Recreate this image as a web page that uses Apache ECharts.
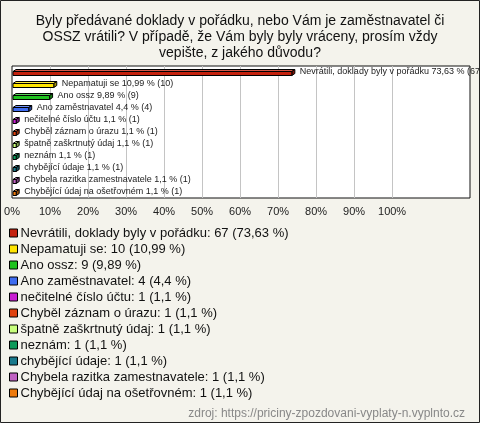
<!DOCTYPE html>
<html>
<head>
<meta charset="utf-8">
<script src="https://cdn.jsdelivr.net/npm/echarts@6/dist/echarts.min.js"></script>
<style>
  html, body { margin: 0; padding: 0; background: #f4f3ec; }
  #chart { width: 480px; height: 423px; }
</style>
</head>
<body>
<div id="chart"></div>
<script>
// data
const categories = [
  'Nevrátili, doklady byly v pořádku',
  'Nepamatuji se',
  'Ano ossz',
  'Ano zaměstnavatel',
  'nečitelné číslo účtu',
  'Chyběl záznam o úrazu',
  'špatně zaškrtnutý údaj',
  'neznám',
  'chybějící údaje',
  'Chybela razitka zamestnavatele',
  'Chybějící údaj na ošetřovném'
];
const counts = [67, 10, 9, 4, 1, 1, 1, 1, 1, 1, 1];
const percents = [73.63, 10.99, 9.89, 4.4, 1.1, 1.1, 1.1, 1.1, 1.1, 1.1, 1.1];
const colors = ['#c4210d', '#ffe400', '#1ec21e', '#3f6cf0', '#c81ed2', '#e0420e',
  '#c8ff7c', '#0e9a5a', '#1a7a8c', '#c062c2', '#ee7a0c'];
const tickValues = [10, 20, 30, 40, 50, 60, 70, 80, 90, 100];

const chart = echarts.init(document.getElementById('chart'));
const fmt = v => String(v).replace('.', ',');

function shade(hex, f) {
  const n = parseInt(hex.slice(1), 16);
  let r = (n >> 16) & 255, g = (n >> 8) & 255, b = n & 255;
  if (f > 0) { r += (255 - r) * f; g += (255 - g) * f; b += (255 - b) * f; }
  else { r *= 1 + f; g *= 1 + f; b *= 1 + f; }
  return 'rgb(' + Math.round(r) + ',' + Math.round(g) + ',' + Math.round(b) + ')';
}

// one 3D bar per category so the legend gets each answer
const barSeries = categories.map((name, i) => ({
  name: name,
  type: 'custom',
  z: 3,
  itemStyle: { color: colors[i] },
  data: [[percents[i], i]],
  renderItem: function (params, api) {
    const end = api.coord([api.value(0), api.value(1)]);
    const start = api.coord([0, api.value(1)]);
    const h = 4, dx = 3, dy = 2;
    const x = start[0] + 1, y = Math.round(end[1] - h / 2 + 1) + 0.5;
    const w = end[0] - x;
    const c = colors[i];
    const stroke = { stroke: '#000', lineWidth: 1 };
    return {
      type: 'group',
      children: [
        { type: 'polygon', shape: { points: [[x, y], [x + dx, y - dy], [x + w + dx, y - dy], [x + w, y]] },
          style: Object.assign({ fill: shade(c, 0.25) }, stroke) },
        { type: 'polygon', shape: { points: [[x + w, y], [x + w + dx, y - dy], [x + w + dx, y + h - dy], [x + w, y + h]] },
          style: Object.assign({ fill: shade(c, -0.35) }, stroke) },
        { type: 'rect', shape: { x: x, y: y, width: w, height: h },
          style: Object.assign({ fill: c }, stroke) },
        { type: 'text', x: end[0] + dx + 5, y: end[1],
          style: { text: name + ' ' + fmt(percents[i]) + ' % (' + counts[i] + ')',
            fill: '#222', font: '9px "Liberation Sans", Arial, sans-serif',
            textVerticalAlign: 'middle' } }
      ]
    };
  }
}));

// vertical grid lines at the tick values
const gridLines = {
  type: 'custom',
  name: 'grid',
  z: 1,
  silent: true,
  data: tickValues.map(v => [v, 0]),
  renderItem: function (params, api) {
    const cs = params.coordSys;
    const x = Math.round(api.coord([api.value(0), 0])[0]) + 0.5;
    return { type: 'line', shape: { x1: x, y1: cs.y, x2: x, y2: cs.y + cs.height },
      style: { stroke: '#c4c4c4', lineWidth: 1 } };
  }
};

chart.setOption({
  backgroundColor: '#f4f3ec',
  animation: false,
  title: [{
    text: 'Byly předávané doklady v pořádku, nebo Vám je zaměstnavatel či\nOSSZ vrátili? V případě, že Vám byly byly vráceny, prosím vždy\nvepište, z jakého důvodu?',
    left: 240,
    top: 13,
    textAlign: 'center',
    padding: 0,
    textStyle: { fontFamily: '"Liberation Sans", Arial, sans-serif', fontSize: 14, fontWeight: 'normal', color: '#111', lineHeight: 16 }
  }, {
    text: 'zdroj: https://priciny-zpozdovani-vyplaty-n.vyplnto.cz',
    right: 10,
    top: 403,
    textStyle: { fontFamily: '"Liberation Sans", Arial, sans-serif', fontSize: 12, fontWeight: 'normal', color: '#888' }
  }],
  grid: {
    left: 12, right: 10, top: 66, height: 132,
    show: true, backgroundColor: '#fff', borderColor: '#111', borderWidth: 1
  },
  xAxis: {
    type: 'value',
    min: 0, max: 120.5, interval: 10,
    splitLine: { show: false },
    axisLine: { show: false },
    axisTick: { show: false },
    axisLabel: {
      color: '#222', fontSize: 11, margin: 8,
      fontFamily: '"Liberation Sans", Arial, sans-serif',
      showMaxLabel: false,
      formatter: v => (v <= 100 ? v + '%' : '')
    }
  },
  yAxis: {
    type: 'category',
    data: categories.map((c, i) => i),
    inverse: true,
    axisLine: { show: false },
    axisTick: { show: false },
    axisLabel: { show: false }
  },
  legend: {
    orient: 'vertical',
    left: 9, top: 226, padding: 0,
    itemWidth: 8, itemHeight: 8, itemGap: 2,
    icon: 'rect',
    itemStyle: { borderColor: '#000', borderWidth: 1 },
    data: categories,
    textStyle: { fontFamily: '"Liberation Sans", Arial, sans-serif', fontSize: 13, color: '#111', padding: [0, 0, 0, -2], lineHeight: 14 },
    formatter: name => {
      const i = categories.indexOf(name);
      return name + ': ' + counts[i] + ' (' + fmt(percents[i]) + ' %)';
    }
  },
  graphic: [{
    type: 'rect',
    shape: { x: 0.5, y: 0.5, width: 479, height: 422 },
    style: { fill: null, stroke: '#222', lineWidth: 1 },
    silent: true
  }],
  series: [gridLines].concat(barSeries)
});
</script>
</body>
</html>
